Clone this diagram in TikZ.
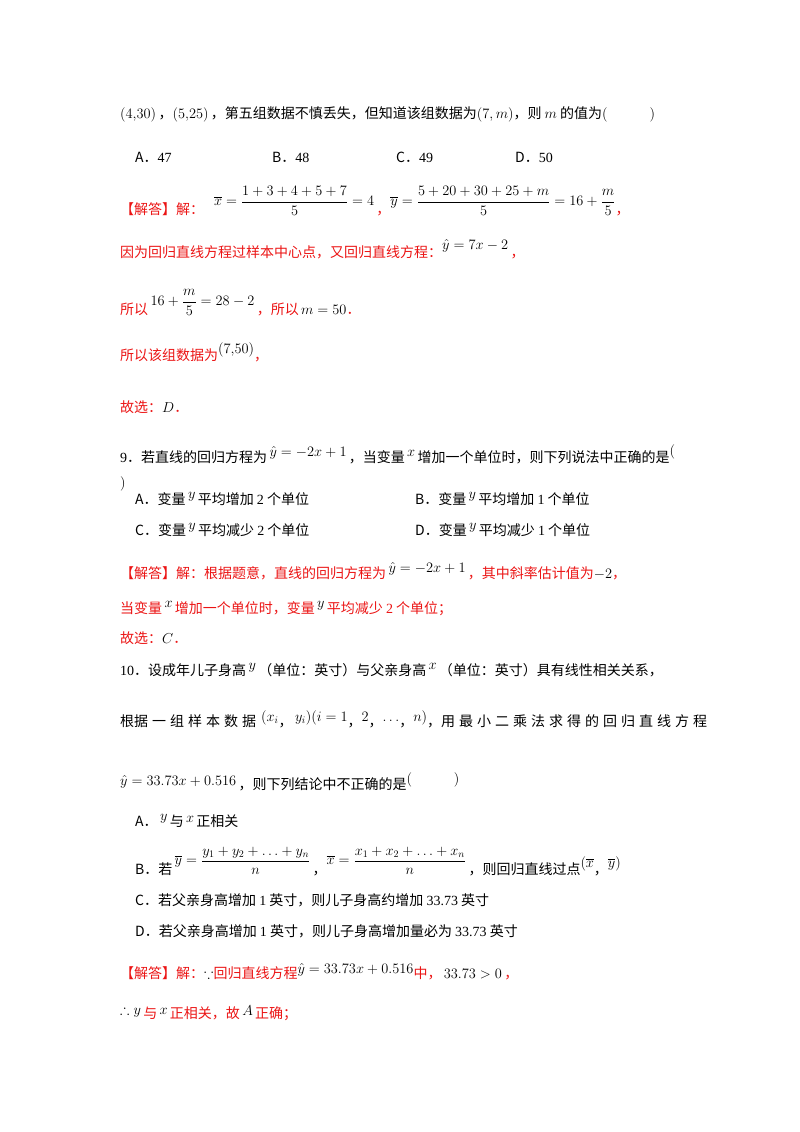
\documentclass[tikz,border=0pt]{standalone}
\usepackage{amsmath,amssymb}
\usepackage{fontspec}
\setmainfont{Liberation Serif}
\newfontfamily\cjk{Noto Sans CJK SC}
\definecolor{ans}{RGB}{235,20,20}
\begin{document}
\begin{tikzpicture}[x=1pt,y=-1pt,
  t/.style={anchor=base west,inner sep=0pt,font=\fontsize{14}{16}\selectfont\cjk},
  r/.style={t,text=ans}]
\useasboundingbox (0,0) rectangle (800,1132);
\node[t] (l1) at (120,118) {$(4{,}30)$\,，$(5{,}25)$\,，第五组数据不慎丢失，但知道该组数据为$(7,m)$，则 $m$ 的值为$($\hspace{3em}$)$};
\node[t] (a1) at (135,162) {A．{\rmfamily 47}};
\node[t] (b1) at (272,162) {B．{\rmfamily 48}};
\node[t] (c1) at (396,162) {C．{\rmfamily 49}};
\node[t] (d1) at (515,162) {D．{\rmfamily 50}};
\node[r] (j1) at (120,214) {【解答】解：\hspace{0.7em}\raisebox{1.1ex}{\color{black}$\overline{x}=\dfrac{1+3+4+5+7}{5}=4$}\,，\raisebox{1.1ex}{\color{black}$\overline{y}=\dfrac{5+20+30+25+m}{5}=16+\dfrac{m}{5}$}，};
\node[r] (j2) at (120,257) {因为回归直线方程过样本中心点，又回归直线方程：\raisebox{1ex}{\color{black}$\hat{y}=7x-2$}\,，};
\node[r] (j3) at (120,314) {所以\,\raisebox{1.1ex}{\color{black}$16+\dfrac{m}{5}=28-2$}\,，所以\,\color{black}$m=50$\color{ans}．};
\node[r] (j4) at (120,360) {所以该组数据为\raisebox{0.8ex}{\color{black}$(7{,}50)$}，};
\node[r] (j5) at (120,412) {故选：\color{black}$D$\color{ans}．};
\node[t] (q9) at (120,462) {{\rmfamily 9}．若直线的回归方程为\,\raisebox{0.7ex}{$\hat{y}=-2x+1$}\,，当变量\,\raisebox{0.7ex}{$x$}\,增加一个单位时，则下列说法中正确的是\raisebox{0.8ex}{$($}};
\node[t] (q9b) at (120,487) {$)$};
\node[t] (a9) at (135,504) {A．变量\,\raisebox{0.7ex}{$y$}\,平均增加 {\rmfamily 2} 个单位};
\node[t] (b9) at (415,504) {B．变量\,\raisebox{0.7ex}{$y$}\,平均增加 {\rmfamily 1} 个单位};
\node[t] (c9) at (135,535) {C．变量\,\raisebox{0.7ex}{$y$}\,平均减少 {\rmfamily 2} 个单位};
\node[t] (d9) at (415,535) {D．变量\,\raisebox{0.7ex}{$y$}\,平均减少 {\rmfamily 1} 个单位};
\node[r] (j6) at (120,578) {【解答】解：根据题意，直线的回归方程为\,\raisebox{0.7ex}{\color{black}$\hat{y}=-2x+1$}\,，其中斜率估计值为\color{black}$-2$\color{ans}，};
\node[r] (j7) at (120,613) {当变量\,\raisebox{0.7ex}{\color{black}$x$}\,增加一个单位时，变量\,\raisebox{0.7ex}{\color{black}$y$}\,平均减少 {\rmfamily 2} 个单位；};
\node[r] (j8) at (120,643) {故选：\color{black}$C$\color{ans}．};
\node[t] (q10) at (120,675) {{\rmfamily 10}．设成年儿子身高\,\raisebox{0.7ex}{$y$}\,（单位：英寸）与父亲身高\,\raisebox{0.7ex}{$x$}\,（单位：英寸）具有线性相关关系，};
\node[t] (q10b) at (120,726) {根据\hspace{4pt}一\hspace{4pt}组\hspace{4pt}样\hspace{4pt}本\hspace{4pt}数\hspace{4pt}据\hspace{5pt}\raisebox{0.6ex}{$(x_i$}，\raisebox{0.6ex}{$\,y_i)(i=1$}，\raisebox{0.6ex}{$2$}，\raisebox{0.6ex}{$\ldots$}，\raisebox{0.6ex}{$n)$}，用\hspace{4pt}最\hspace{4pt}小\hspace{4pt}二\hspace{4pt}乘\hspace{4pt}法\hspace{4pt}求\hspace{4pt}得\hspace{4pt}的\hspace{4pt}回\hspace{4pt}归\hspace{4pt}直\hspace{4pt}线\hspace{4pt}方\hspace{4pt}程};
\node[t] (q10c) at (120,789) {\raisebox{0.5ex}{$\hat{y}=33.73x+0.516$}\,，则下列结论中不正确的是\raisebox{0.7ex}{$($}\hspace{3em}\raisebox{0.7ex}{$)$}};
\node[t] (a10) at (135,826) {A．\,\raisebox{0.7ex}{$y$}\,与\,\raisebox{0.5ex}{$x$}\,正相关};
\node[t] (b10) at (135,874) {B．若\,\raisebox{1.2ex}{$\overline{y}=\dfrac{y_1+y_2+\ldots+y_n}{n}$}\,，\raisebox{1.2ex}{$\overline{x}=\dfrac{x_1+x_2+\ldots+x_n}{n}$}\,，则回归直线过点\raisebox{0.8ex}{$(\overline{x}$}，\raisebox{0.8ex}{$\overline{y})$}};
\node[t] (c10) at (135,905) {C．若父亲身高增加 {\rmfamily 1} 英寸，则儿子身高约增加 {\rmfamily 33.73} 英寸};
\node[t] (d10) at (135,936) {D．若父亲身高增加 {\rmfamily 1} 英寸，则儿子身高增加量必为 {\rmfamily 33.73} 英寸};
\node[r] (j9) at (120,978) {【解答】解：\color{black}$\because$\color{ans}回归直线方程\raisebox{0.6ex}{\color{black}$\hat{y}=33.73x+0.516$}中，\,\color{black}$33.73>0$\color{ans}\,，};
\node[r] (j10) at (120,1018) {\raisebox{0.5ex}{\color{black}$\therefore y$}\,与\,\raisebox{0.5ex}{\color{black}$x$}\,正相关，故\,\raisebox{0.3ex}{\color{black}$A$}\,正确；};
\end{tikzpicture}
\end{document}
